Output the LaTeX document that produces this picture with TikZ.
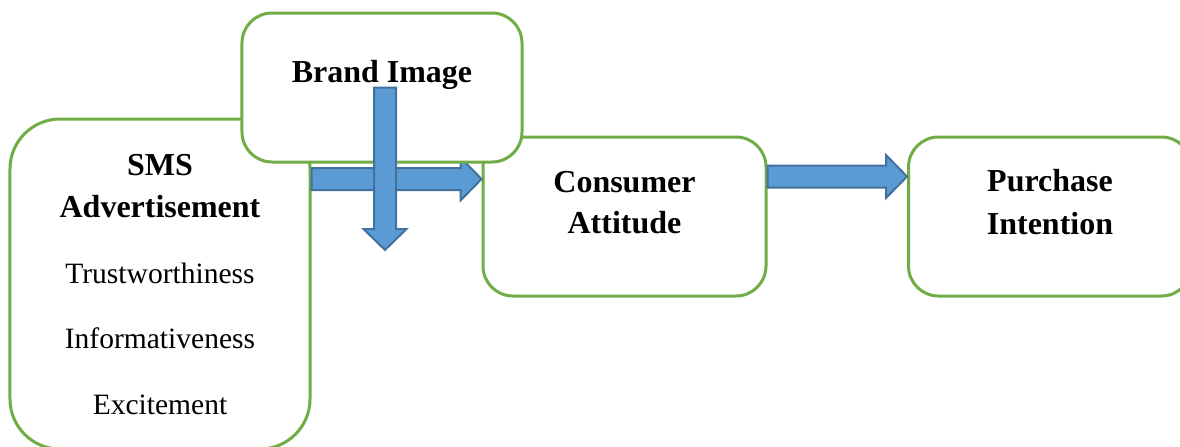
\documentclass[tikz,border=0pt]{standalone}
\usepackage{fontspec}
\setmainfont{Liberation Serif}
\usetikzlibrary{calc}
\definecolor{boxgreen}{HTML}{70AD47}
\definecolor{arrowfill}{HTML}{5B9BD5}
\definecolor{arrowedge}{HTML}{41719C}
% block arrow from #1 to #2 (tip at #2)
\newcommand\fatarrow[2]{%
  \draw[FA] let \p1=(#1), \p2=(#2),
      \n1={atan2(\y2-\y1,\x2-\x1)}, \n2={veclen(\x2-\x1,\y2-\y1)} in
    [shift={(\p1)}, rotate=\n1]
    (0pt,2.2mm) -- ({\n2-4.2mm},2.2mm) -- ({\n2-4.2mm},4.3mm) -- ({\n2+0pt},0pt)
    -- ({\n2-4.2mm},-4.3mm) -- ({\n2-4.2mm},-2.2mm) -- (0pt,-2.2mm) -- cycle;}
\tikzset{
    RB/.style ={rectangle, draw=boxgreen, line width=0.6mm, fill=white, rounded corners=6mm,
                minimum width=5.66cm, minimum height=3.18cm},
    HT/.style ={anchor=base, font=\fontsize{18.2}{23.6}\selectfont\bfseries},
    ST/.style ={anchor=base, font=\fontsize{16.8}{20}\selectfont},
    FA/.style ={fill=arrowfill, draw=arrowedge, line width=0.4mm}}

\begin{document}
\begin{tikzpicture}[x=0.2mm,y=-0.2mm]
        \useasboundingbox (0,0) rectangle (1180,446);
        % boxes
        \node[RB, rounded corners=1cm, minimum width=6cm, minimum height=6.6cm] (sms) at (160,284) {};
        \node[RB] (cons) at (624.5,216.5) {};
        \node[RB] (purch) at (1050,216.5) {};
        % arrows between the boxes
        \coordinate (h1s) at (sms.east |- 0,179);
        \coordinate (h1e) at (cons.west |- 0,179);
        \coordinate (h2s) at (cons.east |- 0,176.5);
        \coordinate (h2e) at (purch.west |- 0,176.5);
        \fatarrow{h1s}{h1e}
        \fatarrow{h2s}{h2e}
        % moderator
        \node[RB, minimum width=5.6cm, minimum height=2.98cm] (brand) at (382,87.5) {};
        \coordinate (vtip) at (385,250);
        \fatarrow{vtip |- brand.center}{vtip}
        % labels
        \node[HT] (brandtxt) at (382,82) {Brand Image};
        \node[HT] (sms1) at (160,175) {SMS};
        \node[HT] (sms2) at (160,217) {Advertisement};
        \node[ST] (trust) at (160,283) {Trustworthiness};
        \node[ST] (inform) at (160,348) {Informativeness};
        \node[ST] (excite) at (160,414) {Excitement};
        \node[HT] (cons1) at (624.5,192) {Consumer};
        \node[HT] (cons2) at (624.5,233) {Attitude};
        \node[HT] (purch1) at (1050,191) {Purchase};
        \node[HT] (purch2) at (1050,234) {Intention};
    \end{tikzpicture}
\end{document}
